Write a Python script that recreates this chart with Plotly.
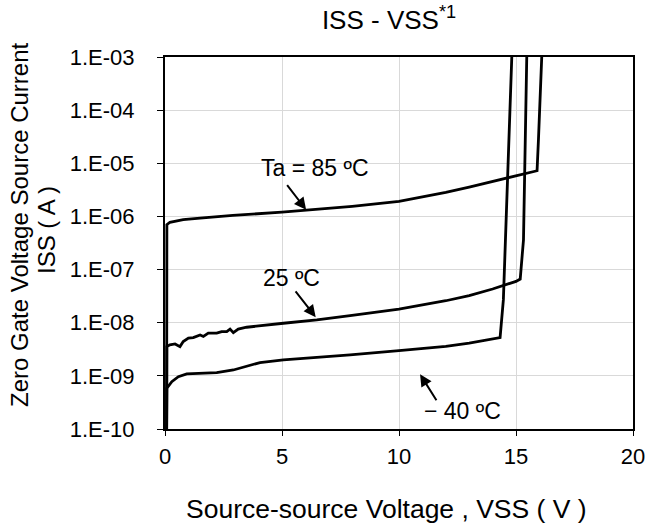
import plotly.graph_objects as go

# ---- data ----
x_85 = [0.07, 0.08, 0.21, 0.78, 1.5, 2.9, 5.0, 6.0, 8.0, 10.0, 12.0, 13.0, 14.0, 15.0, 15.9, 15.96, 16.1]
i_85 = [1e-10, 6.98e-7, 7.76e-7, 8.7e-7, 9.3e-7, 1.05e-6, 1.2e-6, 1.30e-6, 1.55e-6, 1.92e-6,
        2.84e-6, 3.57e-6, 4.57e-6, 5.85e-6, 7.24e-6, 2.8e-5, 1e-3]

x_25 = [0.07, 0.08, 0.21, 0.43, 0.64, 0.78, 1.0, 1.21, 1.5, 1.64, 1.85, 2.21, 2.42, 2.64, 2.78,
        2.92, 3.13, 3.49, 5.06, 6.49, 7.91, 10.0, 12.0, 13.0, 14.0, 15.0, 15.18, 15.32, 15.46]
i_25 = [1e-10, 3.56e-9, 3.83e-9, 3.98e-9, 3.55e-9, 4.42e-9, 5.13e-9, 5.25e-9, 5.89e-9, 5.50e-9,
        6.35e-9, 6.35e-9, 6.81e-9, 6.81e-9, 7.59e-9, 6.52e-9, 7.59e-9, 8.22e-9, 9.77e-9, 1.13e-8,
        1.36e-8, 1.81e-8, 2.59e-8, 3.24e-8, 4.31e-8, 6.0e-8, 6.64e-8, 3.63e-7, 1e-3]

x_m40 = [0.07, 0.08, 0.29, 0.57, 0.93, 1.5, 2.21, 2.92, 3.49, 4.06, 5.06, 6.49, 7.91, 10.0, 12.0,
         13.0, 14.0, 14.32, 14.46, 14.82]
i_m40 = [1e-10, 5.85e-10, 7.78e-10, 9.66e-10, 1.09e-9, 1.12e-9, 1.15e-9, 1.29e-9, 1.49e-9, 1.78e-9,
         2.0e-9, 2.2e-9, 2.48e-9, 2.97e-9, 3.59e-9, 4.14e-9, 4.93e-9, 5.25e-9, 2.69e-8, 1e-3]

y_tick_vals = [1e-10, 1e-9, 1e-8, 1e-7, 1e-6, 1e-5, 1e-4, 1e-3]
y_tick_text = ["1.E-10", "1.E-09", "1.E-08", "1.E-07", "1.E-06", "1.E-05", "1.E-04", "1.E-03"]
x_tick_vals = [0, 5, 10, 15, 20]

FONT = "Liberation Sans, Arial, sans-serif"

fig = go.Figure()
for xs, ys, name in [(x_85, i_85, "85"), (x_25, i_25, "25"), (x_m40, i_m40, "-40")]:
    fig.add_trace(go.Scatter(x=xs, y=ys, mode="lines", name=name,
                             line=dict(color="black", width=2.8), showlegend=False))

fig.update_layout(
    width=646, height=529,
    margin=dict(l=165, r=13, t=57, b=100),
    paper_bgcolor="white", plot_bgcolor="white",
    font=dict(family=FONT, color="black", size=22),
    title=dict(text="ISS - VSS<sup>*1</sup>", x=389/646, xref="container", xanchor="center",
               y=1 - 20/529, yref="container", yanchor="middle",
               font=dict(family=FONT, size=26, color="black")),
    xaxis=dict(range=[0, 20], tickvals=x_tick_vals, showgrid=True, gridcolor="#d9d9d9", gridwidth=1,
               showline=True, linecolor="black", linewidth=2, mirror=True,
               ticks="outside", ticklen=5, tickcolor="black", tickwidth=1,
               tickfont=dict(size=22), zeroline=False, ticklabelstandoff=2, automargin=False),
    yaxis=dict(type="log", range=[-10, -3], tickvals=y_tick_vals, ticktext=y_tick_text,
               showgrid=True, gridcolor="#d9d9d9", gridwidth=1,
               showline=True, linecolor="black", linewidth=2, mirror=True,
               ticks="outside", ticklen=6, tickcolor="black", tickwidth=1,
               tickfont=dict(size=22), zeroline=False, ticklabelstandoff=18, automargin=False),
)

# x-axis title
fig.add_annotation(text="Source-source Voltage , VSS ( V )", xref="paper", yref="paper",
                   x=(386.5 - 165) / 468, y=(429 - 509) / 372, showarrow=False,
                   xanchor="center", yanchor="middle", font=dict(size=26.5))

# y-axis title as two rotated lines
fig.add_annotation(text="Zero Gate Voltage Source Current", xref="paper", yref="paper",
                   x=(19 - 165) / 468, y=(429 - 225) / 372, textangle=-90, showarrow=False,
                   xanchor="center", yanchor="middle", font=dict(size=24))
fig.add_annotation(text="ISS ( A )", xref="paper", yref="paper",
                   x=(46 - 165) / 468, y=(429 - 230) / 372, textangle=-90, showarrow=False,
                   xanchor="center", yanchor="middle", font=dict(size=24))

# curve labels
labels = [("Ta = 85 ºC", 6.41, -5.08), ("25 ºC", 5.42, -7.155), ("− 40 ºC", 12.70, -9.655)]
for t, lx, ly in labels:
    fig.add_annotation(text=t, x=lx, y=ly, xref="x", yref="y", showarrow=False,
                       xanchor="center", yanchor="middle", font=dict(size=23))

# arrows (tail -> head)
arrows = [(5.17, -5.384, 6.03, -5.874), (5.53, -7.381, 6.44, -7.895), (11.64, -9.486, 10.90, -8.97)]
for tx, ty, hx, hy in arrows:
    fig.add_annotation(text="", x=hx, y=hy, ax=tx, ay=ty, xref="x", yref="y", axref="x", ayref="y",
                       showarrow=True, arrowhead=2, arrowsize=1.2, arrowwidth=2, arrowcolor="black")

fig.write_html("out.html", config={"displayModeBar": False},
               post_script="document.body.style.margin='0';")
